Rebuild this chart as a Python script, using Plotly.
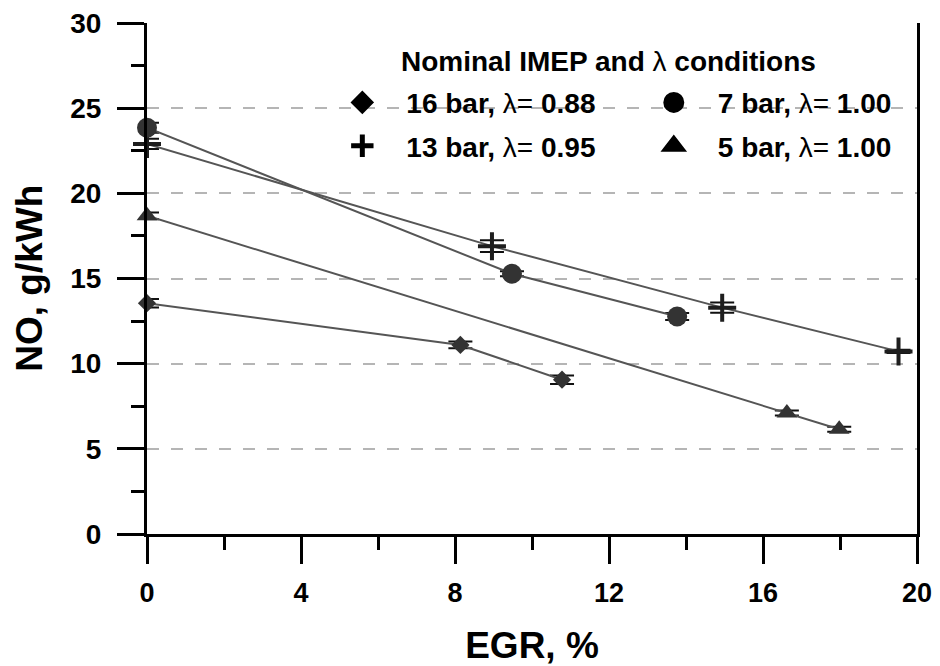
import plotly.graph_objects as go

# ---------------- data ----------------
egr_16 = [0.0, 8.14, 10.78]
no_16 = [13.55, 11.1, 9.06]
err_16 = [0.25, 0.2, 0.25]

egr_13 = [0.0, 8.96, 14.94, 19.52]
no_13 = [22.9, 16.9, 13.29, 10.72]
err_13 = [0.3, 0.35, 0.3, 0.1]

egr_7 = [0.0, 9.48, 13.77]
no_7 = [23.85, 15.28, 12.77]
err_7 = [0.3, 0.15, 0.2]

egr_5 = [0.0, 16.62, 17.98]
no_5 = [18.68, 7.10, 6.15]
err_5 = [0.2, 0.15, 0.15]

legend_16 = "<b>16 bar, </b>λ=<b> 0.88</b>"
legend_13 = "<b>13 bar, </b>λ=<b> 0.95</b>"
legend_7 = "<b>7 bar, </b>λ=<b> 1.00</b>"
legend_5 = "<b>5 bar, </b>λ=<b> 1.00</b>"
legend_title = "<b>Nominal IMEP and </b>λ<b> conditions</b>"
y_title = "<b>NO, g/kWh</b>"
x_title = "EGR, %"

x_ticks = [0, 4, 8, 12, 16, 20]
y_ticks = [0, 5, 10, 15, 20, 25, 30]
grid_vals = [5, 10, 15, 20, 25]

FONT = "Liberation Sans, Arial, Helvetica, sans-serif"
LINE_C = "#555555"
MARK_C = "#333333"

fig = go.Figure()

# invisible helper trace so the grid-only overlay axis is drawn
fig.add_trace(go.Scatter(x=[None], y=[None], yaxis="y2", mode="markers",
                         showlegend=False, hoverinfo="skip"))

series = [
    (egr_16, no_16, err_16, dict(symbol="diamond", size=14, color=MARK_C)),
    (egr_13, no_13, err_13, dict(symbol="cross-thin", size=20, color="#1e1e1e",
                                 line=dict(width=4, color="#1e1e1e"))),
    (egr_7, no_7, err_7, dict(symbol="circle", size=20, color=MARK_C)),
    (egr_5, no_5, err_5, dict(symbol="triangle-up", size=18, color=MARK_C)),
]
for xs, ys, es, mk in series:
    fig.add_trace(go.Scatter(
        x=xs, y=ys, mode="lines+markers",
        line=dict(color=LINE_C, width=2),
        marker=mk,
        error_y=dict(type="data", array=es, visible=True, color="#111111",
                     thickness=2, width=12),
        cliponaxis=False, showlegend=False,
    ))

# legend-only entries
leg_items = [
    (legend_16, dict(symbol="diamond", size=16, color="black", line=dict(width=2, color="black")), "legend", "g1"),
    (legend_13, dict(symbol="cross-thin", size=16, color="black", line=dict(width=5, color="black")), "legend", "g2"),
    (legend_7, dict(symbol="circle", size=16, color="black", line=dict(width=5, color="black")), "legend2", "g3"),
    (legend_5, dict(symbol="triangle-up", size=16, color="black", line=dict(width=4, color="black")), "legend2", "g4"),
]
for name, mk, lg, grp in leg_items:
    fig.add_trace(go.Scatter(
        x=[None], y=[None], mode="markers", marker=mk, name=name,
        legend=lg, legendgroup=grp, showlegend=True,
    ))

legend_common = dict(
    bgcolor="rgba(0,0,0,0)", borderwidth=0,
    font=dict(family=FONT, size=28, color="black"),
    itemwidth=78, tracegroupgap=4, traceorder="grouped",
    orientation="v", xanchor="left", yanchor="top",
    itemclick=False, itemdoubleclick=False,
)

fig.update_layout(
    width=932, height=658,
    margin=dict(l=139, r=23, t=15, b=132, autoexpand=False),
    paper_bgcolor="white", plot_bgcolor="white",
    font=dict(family=FONT, color="black"),
    legend=dict(legend_common, x=0.2225, y=0.893),
    legend2=dict(legend_common, x=0.627, y=0.893),
    xaxis=dict(
        range=[0, 20], tickvals=x_ticks, ticks="outside", ticklen=27,
        tickwidth=2.5, tickcolor="black", automargin=False,
        ticklabeloverflow="allow",
        minor=dict(dtick=2, ticks="outside", ticklen=13, tickwidth=2.5, tickcolor="black", showgrid=False),
        showline=True, linewidth=3, linecolor="black", mirror=False,
        showgrid=False, zeroline=False, ticklabelstandoff=6,
        tickfont=dict(family=FONT, size=27, color="black", weight="bold"),
        title=dict(text=x_title, font=dict(family=FONT, size=37, color="black", weight="bold"),
                   standoff=25),
    ),
    yaxis=dict(
        range=[0, 30], tickvals=y_ticks, ticks="outside", ticklen=27,
        tickwidth=2.5, tickcolor="black", automargin=False,
        ticklabeloverflow="allow",
        minor=dict(dtick=2.5, ticks="outside", ticklen=13, tickwidth=2.5, tickcolor="black", showgrid=False),
        showline=True, linewidth=3, linecolor="black", mirror=True,
        showgrid=False, zeroline=False, ticklabelstandoff=10,
        tickfont=dict(family=FONT, size=28, color="black", weight="bold"),
    ),
    yaxis2=dict(
        overlaying="y", anchor="x", side="left", range=[0, 30], tickvals=grid_vals,
        showticklabels=False, ticks="", showline=False, zeroline=False, automargin=False,
        showgrid=True, gridcolor="#b5b5b5", gridwidth=2, griddash="12px,12px",
    ),
    annotations=[
        dict(text=legend_title, xref="paper", yref="paper", x=0.3277, y=0.9237,
             xanchor="left", yanchor="middle", showarrow=False,
             font=dict(family=FONT, size=28, color="black")),
        dict(text=y_title, xref="paper", yref="paper", x=-0.153, y=0.5,
             xanchor="center", yanchor="middle", showarrow=False, textangle=-90,
             font=dict(family=FONT, size=37, color="black")),
    ],
)

fig.write_html("out.html")
